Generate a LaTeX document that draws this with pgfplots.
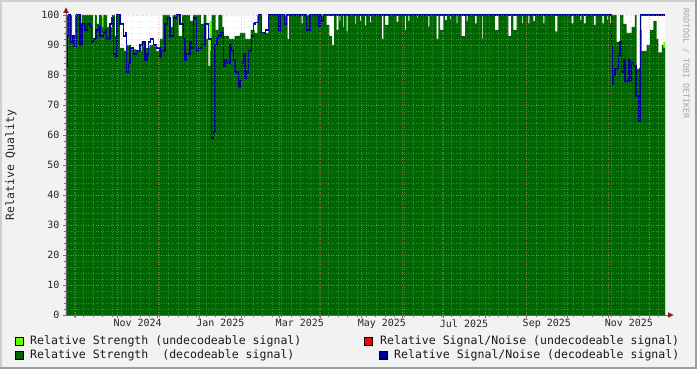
\documentclass[border=0pt]{standalone}
\usepackage{pgfplots}
\pgfplotsset{compat=1.18}
\usepackage{fontspec}
\setmainfont{DejaVu Sans Mono}
\definecolor{dkgreen}{RGB}{0,100,0}
\definecolor{ltgreen}{RGB}{102,255,0}
\definecolor{snrblue}{RGB}{0,0,153}
\definecolor{snrred}{RGB}{255,0,0}
\definecolor{backc}{RGB}{242,242,242}
\definecolor{shadea}{RGB}{207,207,207}
\definecolor{shadeb}{RGB}{158,158,158}
\definecolor{arrowc}{RGB}{140,30,30}
\definecolor{mgrid}{RGB}{255,128,128}
\definecolor{ngrid}{RGB}{192,192,192}

\begin{document}
\begin{tikzpicture}
\fill[backc] (-66bp,-54bp) rectangle (631bp,315bp);
\fill[shadea] (-66bp,313bp) rectangle (631bp,315bp);
\fill[shadea] (-66bp,-54bp) rectangle (-64bp,315bp);
\fill[shadeb] (-66bp,-54bp) rectangle (631bp,-52bp);
\fill[shadeb] (629bp,-54bp) rectangle (631bp,315bp);
\begin{axis}[
  at={(0,0)}, anchor=south west,
  scale only axis, width=599bp, height=300bp,
  xmin=-7.2, xmax=437.8, ymin=0, ymax=100,
  axis x line*=bottom, axis y line*=left,
  axis line style={draw=black!60, line width=0.8bp},
  axis background/.style={fill=white},
  clip=false,
  axis on top,
  xtick={0,31,61,92,123,151,182,212,243,273,304,335,365,396,426},
  xticklabel={\relax},
  minor xtick={-1,6,...,433},
  extra x ticks={46,107.5,166.5,227.5,288.5,350,411},
  extra x tick labels={Nov 2024,Jan 2025,Mar 2025,May 2025,Jul 2025,Sep 2025,Nov 2025},
  extra x tick style={grid=none, major tick length=0pt, tick style={draw=none}},
  ytick={0,10,...,100},
  minor ytick={2,4,...,98},
  grid=both,
  major grid style={draw=mgrid, opacity=0.5, line width=0.6bp, dash pattern=on 1bp off 1.5bp},
  minor grid style={draw=ngrid, opacity=0.32, line width=0.6bp, dash pattern=on 1bp off 1.5bp},
  tick align=outside,
  major tick length=3bp, minor tick length=2bp,
  tick style={draw=black!55, line width=0.8bp},
  /pgf/number format/assume math mode=true,
  ticklabel style={font=\fontsize{10bp}{12bp}\selectfont, text=black!85},
  xticklabel style={yshift=-1bp},
]
% undecodeable strength (light green)
\addplot[const plot, fill=ltgreen, draw=none] table {
-7.2 0
3.8 100
4.7 0
19.6 99
20.5 0
99.3 98
101.0 0
419.2 100
420.4 0
436.6 91
437.8 91
} \closedcycle;
% decodeable strength (dark green)
\addplot[const plot, fill=dkgreen, draw=none] table {
-7.2 100
-2.7 92.5
-0.5 100
2.5 97
4.7 100
12.9 92
14.3 100
15.8 97
17.3 100
19.6 96
20.5 100
23.3 96
27.0 100
29.2 93
31.0 100
32.9 89
36.0 88
38.0 90
41.0 88.5
45.0 88
49.0 91
52.0 89
55.0 90
58.0 89.5
60.0 88
62.6 92
64.5 100
70.0 96
72.0 100
76.5 93
79.0 100
85.0 98
87.0 100
93.0 97
95.0 100
97.0 92
98.5 83
100.0 88
101.0 100
104.0 95
106.0 100
109.0 96
110.0 93
114.0 92
118.0 93
122.0 94
126.0 92
130.0 95
133.0 94
135.0 100
138.2 94
143.1 100
157.5 92
158.5 100
167.9 97.2
168.6 100
186.5 96.7
188.5 93
190.5 90
191.9 100
193.9 95
195.1 100
196.0 98
196.7 100
198.8 96
199.5 100
201.3 94.5
202.0 100
207.5 97
208.2 100
211.2 98
211.9 100
215.0 96.5
215.7 100
218.7 97.5
219.4 100
227.4 92
228.6 100
229.8 96.7
232.3 100
238.5 97.8
239.7 100
244.7 95
245.4 100
247.1 98
247.8 100
253.4 99
254.1 100
262.0 96.1
262.7 100
268.2 92
269.4 100
270.7 95
273.1 100
274.4 98.3
275.7 100
278.1 98.5
278.8 100
283.0 97.2
283.5 100
286.8 93
289.3 100
290.5 98
291.2 100
296.7 97.2
297.9 100
301.7 92
302.4 100
311.5 95
314.0 100
321.4 93
323.4 100
325.1 95
327.6 100
331.4 97.2
332.1 100
336.3 97.2
337.0 100
340.0 98
341.3 100
347.5 97.2
348.2 100
356.1 94.5
357.9 100
368.5 97.2
369.7 100
375.0 98.3
375.7 100
377.6 97.2
378.8 100
385.0 96.7
386.3 100
391.2 97.2
392.4 100
394.9 98.3
395.6 100
397.3 97.2
398.0 100
401.9 91
404.4 100
406.8 97
409.3 94
413.0 96
415.5 100
416.8 82
419.2 95
420.4 88
424.2 90
426.7 95
429.2 98
431.6 92
432.9 87.5
435.4 90
436.6 89
437.8 89
} \closedcycle;
% decodeable signal/noise (blue)
\addplot[const plot, draw=snrblue, line width=1.25bp] table {
-7.2 83
-6.4 93
-5.6 100
-3.8 91
-2.6 93
-1.2 89.5
0.5 100
3.2 90
4.6 97
6.9 95
8.5 97
10.6 96
11.9 91
13.0 92
15.0 95
16.8 96
18.1 93
20.5 94
22.0 95
23.0 92
25.5 97
27.0 99
28.0 87
29.5 86
30.7 100
33.0 97
35.4 93
37.0 94
37.9 81
39.0 84
40.3 89
42.8 87
45.0 88
47.8 90
49.5 91
51.5 85
53.0 87
53.9 91
55.5 92
57.7 90
60.0 89
62.6 86
64.0 88
66.3 97
68.0 99
70.1 93
72.5 99
75.0 100
77.5 97
80.0 92
81.2 85
82.5 87
84.9 91
86.0 89
87.4 99
89.9 88
91.5 89
93.6 90
96.1 97
98.5 92
101.0 59
102.3 61
103.5 90
105.0 92
106.0 93
108.0 94
109.7 83
111.0 85
112.2 84
114.6 90
115.9 88
117.1 85
118.4 81
120.8 76
122.0 78
123.3 84
124.5 87
125.8 79
127.0 81
128.3 88
130.8 93
132.0 97
133.2 97.5
135.7 100
138.2 94
141.0 95
143.1 100
150.5 95
151.8 100
155.0 97
156.8 100
171.6 95
174.1 100
180.2 96
181.5 100
182.8 98
184.0 100
398.0 89.5
398.7 77
399.6 80
400.7 82
403.2 86.5
404.4 91
405.6 81
406.8 85
408.1 78
410.6 85
411.8 78
413.0 84
414.3 83
416.2 73
417.9 64.4
419.2 82
419.7 100
437.8 100
};
\end{axis}
% axis extensions and arrows
\draw[black!60, line width=0.8bp] (599bp,0) -- (603bp,0);
\fill[arrowc] (602bp,-2.8bp) -- (607.5bp,0) -- (602bp,2.8bp) -- cycle;
\draw[black!60, line width=0.8bp] (0,300bp) -- (0,303bp);
\fill[arrowc] (-2.8bp,302bp) -- (0,307.5bp) -- (2.8bp,302bp) -- cycle;
% y label
\node[rotate=90, font=\fontsize{11.5bp}{13bp}\selectfont, text=black!85] at (-55bp,150bp) {Relative Quality};
% watermark
\node[rotate=-90, font=\fontsize{8.3bp}{10bp}\selectfont, text=black!35, anchor=west] at (620bp,310bp) {RRDTOOL / TOBI OETIKER};
% legend
\tikzset{lgbox/.style={draw=black, line width=0.6bp, minimum width=8bp, minimum height=8bp, inner sep=0pt},
         lgtxt/.style={anchor=west, inner sep=0pt, font=\fontsize{11.55bp}{13bp}\selectfont, text=black!90}}
\node[lgbox, fill=ltgreen] at (-46.5bp,-26bp) {};
\node[lgtxt] at (-36bp,-26bp) {Relative Strength (undecodeable signal)};
\node[lgbox, fill=snrred] at (302.7bp,-26bp) {};
\node[lgtxt] at (314bp,-26bp) {Relative Signal/Noise (undecodeable signal)};
\node[lgbox, fill=dkgreen] at (-46.5bp,-40bp) {};
\node[lgtxt] at (-36bp,-40bp) {Relative Strength\ \ (decodeable signal)};
\node[lgbox, fill=snrblue] at (317bp,-40bp) {};
\node[lgtxt] at (328bp,-40bp) {Relative Signal/Noise (decodeable signal)};
\pgfresetboundingbox
\useasboundingbox (-66bp,-54bp) rectangle (631bp,315bp);
\end{tikzpicture}
\end{document}
